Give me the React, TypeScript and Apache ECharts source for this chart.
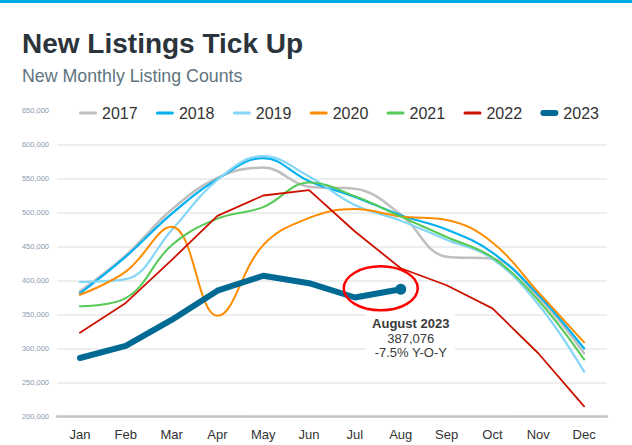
import React, { useEffect, useRef } from "react";
import * as echarts from "echarts";

const months = ["Jan", "Feb", "Mar", "Apr", "May", "Jun", "Jul", "Aug", "Sep", "Oct", "Nov", "Dec"];
const yTicks = { min: 200000, max: 650000, interval: 50000 };

const years = ["2017", "2018", "2019", "2020", "2021", "2022", "2023"];
const s2017 = [384000, 437000, 504000, 551000, 566000, 538000, 535000, 497000, 435000, 432000, 376000, 293000];
const s2018 = [381000, 435000, 498000, 549000, 580000, 546000, 523000, 496000, 475000, 441000, 379000, 300000];
const s2019 = [398000, 402000, 474000, 548000, 583000, 553000, 511000, 488000, 460000, 432000, 365000, 266000];
const s2020 = [379000, 413000, 479000, 348000, 452000, 492000, 505000, 494000, 489000, 456000, 383000, 309000];
const s2021 = [362000, 374000, 452000, 491000, 508000, 544000, 524000, 494000, 464000, 434000, 371000, 284000];
const s2022 = [323000, 367000, 430000, 495000, 525000, 533000, 472000, 418000, 393000, 359000, 293000, 215000];
const s2023 = [286000, 304000, 342000, 385000, 407000, 396000, 375000, 387076];

const colors = ["#bfbfbf", "#00b0f0", "#84d6f6", "#ff8c00", "#57c957", "#cc1100", "#006a94"];
const widths = [2.5, 2.2, 2.2, 2, 2, 1.8, 6];
const smoothFlags = [true, true, true, true, true, false, false];
const seriesData = [s2017, s2018, s2019, s2020, s2021, s2022, s2023];

const annotTitle = "August 2023";
const annotValue = "387,076";
const annotChange = "-7.5% Y-O-Y";

const fmt = (v: number) => String(v).replace(/\B(?=(\d{3})+(?!\d))/g, ",");
const FONT = "Liberation Sans, Arial, sans-serif";

const thinIcon = "path://M1.5,0H16.5A1.5,1.5 0 0 1 16.5,3H1.5A1.5,1.5 0 0 1 1.5,0Z";
const thickIcon = "path://M3,0H15A3,3 0 0 1 15,6H3A3,3 0 0 1 3,0Z";

export default function App() {
  const ref = useRef<HTMLDivElement>(null);
  useEffect(() => {
    if (!ref.current) return;
    const chart = echarts.init(ref.current, undefined, { renderer: "svg" });
    const series = years.map((y, i) => ({
      name: y,
      type: "line",
      data: i === 6
        ? seriesData[i].map((v, j) => (j === 7 ? { value: v, symbol: "circle", symbolSize: 11 } : v))
        : seriesData[i],
      symbol: "none",
      showSymbol: true,
      smooth: smoothFlags[i] ? 0.4 : false,
      lineStyle: { color: colors[i], width: widths[i], cap: "round", join: "round" },
      itemStyle: { color: colors[i] },
      z: 2 + i,
    }));
    const nSplit = (yTicks.max - yTicks.min) / yTicks.interval + 1;
    const splitColors = Array.from({ length: nSplit }, (_, k) => (k === nSplit - 1 ? "rgba(0,0,0,0)" : "#eeeeee"));
    const baseGraphic = [
      { type: "rect", left: 0, top: 0, shape: { width: 632, height: 3 }, style: { fill: "#00a9e6" } },
      {
        type: "text", x: 22, y: 43,
        style: { text: "New Listings Tick Up", fill: "#2b333b", font: `bold 28px ${FONT}`, textVerticalAlign: "middle" },
      },
      {
        type: "text", x: 22, y: 76,
        style: { text: "New Monthly Listing Counts", fill: "#5f7480", font: `17.8px ${FONT}`, textVerticalAlign: "middle" },
      },
    ];
    chart.setOption({
      animation: false,
      backgroundColor: "#ffffff",
      textStyle: { fontFamily: FONT },
      grid: { left: 57, right: 25, top: 110.5, bottom: 28.5, containLabel: false },
      legend: {
        left: 79,
        top: 105,
        padding: 0,
        itemWidth: 18,
        itemHeight: 14,
        itemGap: 18.3,
        symbolKeepAspect: true,
        textStyle: { fontSize: 16, color: "#333333", fontFamily: FONT },
        data: years.map((y, i) => ({ name: y, icon: i === 6 ? thickIcon : thinIcon, itemStyle: { color: colors[i] } })),
      },
      xAxis: {
        type: "category",
        data: months,
        boundaryGap: true,
        axisLine: { lineStyle: { color: "#c4c4c4", width: 2.5 } },
        axisTick: { show: false },
        axisLabel: { color: "#333333", fontSize: 13, margin: 11, fontFamily: FONT },
        splitLine: { show: false },
      },
      yAxis: {
        type: "value",
        min: yTicks.min,
        max: yTicks.max,
        interval: yTicks.interval,
        axisLine: { show: false },
        axisTick: { show: false },
        axisLabel: { color: "#8b9bb0", fontSize: 7.5, margin: 8, formatter: fmt, fontFamily: FONT },
        splitLine: { show: true, lineStyle: { color: splitColors, width: 1.8 } },
      },
      series,
      graphic: baseGraphic,
    });
    const p = chart.convertToPixel({ seriesIndex: 6 }, [7, s2023[7]]) as number[];
    const px = p[0], py = p[1];
    chart.setOption({
      graphic: [
        ...baseGraphic,
        {
          type: "ellipse", z: 20,
          shape: { cx: px - 20, cy: py - 1, rx: 37, ry: 22 },
          style: { fill: "none", stroke: "#ff0000", lineWidth: 2.5 },
        },
        {
          type: "rect", z: 1,
          shape: { x: px - 35, y: py + 24, width: 89, height: 45 },
          style: { fill: "#ffffff" },
        },
        {
          type: "text", z: 21, x: px + 10, y: py + 34,
          style: { text: annotTitle, fill: "#3a3a3a", font: `bold 13px ${FONT}`, textAlign: "center", textVerticalAlign: "middle" },
        },
        {
          type: "text", z: 21, x: px + 10, y: py + 49,
          style: { text: annotValue, fill: "#3a3a3a", font: `13px ${FONT}`, textAlign: "center", textVerticalAlign: "middle" },
        },
        {
          type: "text", z: 21, x: px + 10, y: py + 63,
          style: { text: annotChange, fill: "#3a3a3a", font: `13px ${FONT}`, textAlign: "center", textVerticalAlign: "middle" },
        },
      ],
    });
    return () => chart.dispose();
  }, []);
  return (
    <div
      ref={ref}
      style={{ position: "fixed", left: 0, top: 0, width: 632, height: 445, background: "#fff" }}
    />
  );
}
